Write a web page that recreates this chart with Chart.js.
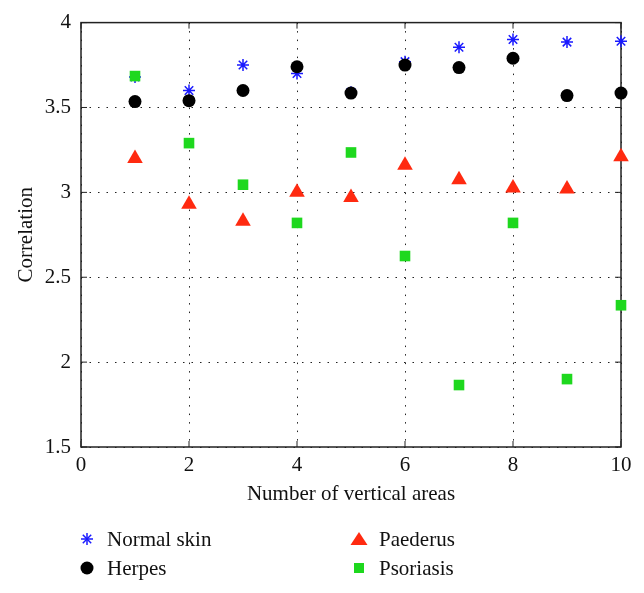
<!DOCTYPE html>
<html>
<head>
<meta charset="utf-8">
<script src="https://cdn.jsdelivr.net/npm/chart.js@4.4.0/dist/chart.umd.min.js"></script>
<style>
  body { margin: 0; background: #fff; }
  #wrap { position: relative; width: 644px; height: 593px; }
  .leg { position: absolute; height: 24px; font: 21px "Liberation Serif", serif; color: #111; line-height: 24px; white-space: nowrap; }
  .leg svg { position: absolute; left: 0; top: 2px; }
  .leg span { position: absolute; left: 30px; top: 0; }
</style>
</head>
<body>
<div id="wrap">
  <canvas id="corrChart" width="644" height="593"></canvas>
  <div class="leg" style="left:77px; top:527px;">
    <svg width="20" height="20"><g stroke="#1a1aff" stroke-width="1.5"><line x1="10" y1="4" x2="10" y2="16"/><line x1="4" y1="10" x2="16" y2="10"/><line x1="5.8" y1="5.8" x2="14.2" y2="14.2"/><line x1="14.2" y1="5.8" x2="5.8" y2="14.2"/></g></svg>
    <span>Normal skin</span>
  </div>
  <div class="leg" style="left:77px; top:556px;">
    <svg width="20" height="20"><circle cx="10" cy="10" r="6.5" fill="#000"/></svg>
    <span>Herpes</span>
  </div>
  <div class="leg" style="left:349px; top:527px;">
    <svg width="20" height="20"><polygon points="10,3 18.5,16 1.5,16" fill="#ff2a10"/></svg>
    <span>Paederus</span>
  </div>
  <div class="leg" style="left:349px; top:556px;">
    <svg width="20" height="20"><rect x="5" y="5" width="10" height="10" fill="#1ed81e"/></svg>
    <span>Psoriasis</span>
  </div>
</div>
<script>
// number of vertical areas
const areas = [1, 2, 3, 4, 5, 6, 7, 8, 9, 10];

// correlation per class
const normalSkin = [3.68, 3.60, 3.75, 3.70, 3.59, 3.77, 3.855, 3.90, 3.885, 3.89];
const herpes = [3.535, 3.54, 3.60, 3.74, 3.585, 3.75, 3.735, 3.79, 3.57, 3.585];
const paederus = [3.20, 2.93, 2.83, 3.00, 2.97, 3.16, 3.075, 3.025, 3.02, 3.21];
const psoriasis = [3.685, 3.29, 3.045, 2.82, 3.235, 2.625, 1.865, 2.82, 1.90, 2.335];

const xTicks = [0, 2, 4, 6, 8, 10];
const yTicks = [1.5, 2, 2.5, 3, 3.5, 4];

const FONT = '"Liberation Serif", serif';

function toPoints(vals) {
    return areas.map((a, i) => ({ x: a, y: vals[i] }));
}

// solid box round the plot plus small inward ticks, like the original
const boxPlugin = {
    id: 'box',
    beforeDatasetsDraw(chart) {
        const { ctx, chartArea: a, scales } = chart;
        ctx.save();
        ctx.strokeStyle = '#222';
        ctx.lineWidth = 1.5;
        ctx.strokeRect(a.left, a.top, a.right - a.left, a.bottom - a.top);
        ctx.lineWidth = 1;
        ctx.beginPath();
        xTicks.forEach(t => {
            const px = scales.x.getPixelForValue(t);
            ctx.moveTo(px, a.bottom); ctx.lineTo(px, a.bottom - 6);
            ctx.moveTo(px, a.top); ctx.lineTo(px, a.top + 6);
        });
        yTicks.forEach(t => {
            const py = scales.y.getPixelForValue(t);
            ctx.moveTo(a.left, py); ctx.lineTo(a.left + 6, py);
            ctx.moveTo(a.right, py); ctx.lineTo(a.right - 6, py);
        });
        ctx.stroke();
        ctx.restore();
    }
};

const ctx = document.getElementById('corrChart');
new Chart(ctx, {
    type: 'scatter',
    data: {
        datasets: [
            {
                label: 'Normal skin',
                data: toPoints(normalSkin),
                pointStyle: 'star',
                pointRadius: 6,
                borderColor: '#1a1aff',
                backgroundColor: '#1a1aff',
                borderWidth: 1.5,
                clip: false,
                order: 4
            },
            {
                label: 'Herpes',
                data: toPoints(herpes),
                pointStyle: 'circle',
                pointRadius: 6.5,
                borderWidth: 0,
                backgroundColor: '#000',
                clip: false,
                order: 3
            },
            {
                label: 'Paederus',
                data: toPoints(paederus),
                pointStyle: 'triangle',
                pointRadius: 9,
                borderWidth: 0,
                backgroundColor: '#ff2a10',
                clip: false,
                order: 2
            },
            {
                label: 'Psoriasis',
                data: toPoints(psoriasis),
                pointStyle: 'rect',
                pointRadius: 7.5,
                borderWidth: 0,
                backgroundColor: '#1ed81e',
                clip: false,
                order: 1
            }
        ]
    },
    options: {
        responsive: false,
        animation: false,
        layout: { padding: { left: 14, right: 23, top: 22, bottom: 86 } },
        plugins: {
            legend: { display: false },
            tooltip: { enabled: false }
        },
        scales: {
            x: {
                type: 'linear',
                min: 0,
                max: 10,
                afterBuildTicks: s => { s.ticks = xTicks.map(v => ({ value: v })); },
                afterFit: s => { s.height = 60; },
                ticks: {
                    color: '#111',
                    font: { family: FONT, size: 21 },
                    padding: 6,
                    callback: v => String(v)
                },
                grid: { color: '#222', lineWidth: 1, drawTicks: false },
                border: { display: false, dash: [1.5, 7] },
                title: {
                    display: true,
                    text: 'Number of vertical areas',
                    color: '#111',
                    font: { family: FONT, size: 21 },
                    padding: { top: 0, bottom: 0 }
                }
            },
            y: {
                type: 'linear',
                min: 1.5,
                max: 4,
                afterBuildTicks: s => { s.ticks = yTicks.map(v => ({ value: v })); },
                afterFit: s => { s.width = 67; },
                ticks: {
                    color: '#111',
                    font: { family: FONT, size: 21 },
                    padding: 10,
                    callback: v => String(v)
                },
                grid: { color: '#222', lineWidth: 1, drawTicks: false },
                border: { display: false, dash: [1.5, 7] },
                title: {
                    display: true,
                    text: 'Correlation',
                    color: '#111',
                    font: { family: FONT, size: 21 },
                    padding: { top: 0, bottom: 0 }
                }
            }
        }
    },
    plugins: [boxPlugin]
});
</script>
</body>
</html>
